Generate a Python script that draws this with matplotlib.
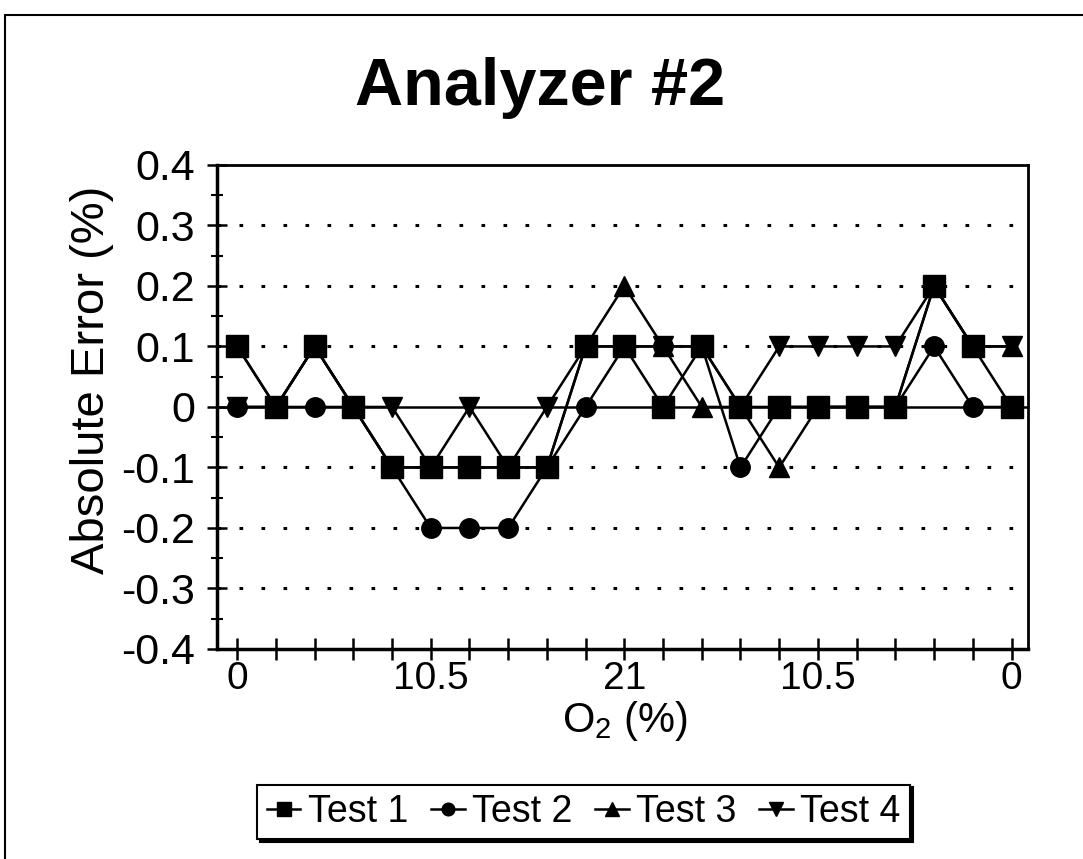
import matplotlib
matplotlib.use('Agg')
import matplotlib.pyplot as plt
from matplotlib.patches import Rectangle
from matplotlib.ticker import MultipleLocator

plt.rcParams['font.family'] = ['Liberation Sans', 'DejaVu Sans']
plt.rcParams['mathtext.fontset'] = 'custom'
plt.rcParams['mathtext.rm'] = 'Liberation Sans'

# O2 steps 0 -> 21 -> 0, labelled every 5th point
x_labels = ['0', '10.5', '21', '10.5', '0']
n_points = 21

test1 = [0.1, 0, 0.1, 0, -0.1, -0.1, -0.1, -0.1, -0.1, 0.1, 0.1, 0, 0.1, 0, 0, 0, 0, 0, 0.2, 0.1, 0]
test2 = [0, 0, 0, 0, -0.1, -0.2, -0.2, -0.2, -0.1, 0, 0.1, 0.1, 0.1, -0.1, 0, 0, 0, 0, 0.1, 0, 0]
test3 = [0.1, 0, 0.1, 0, -0.1, -0.1, -0.1, -0.1, -0.1, 0.1, 0.2, 0.1, 0, 0, -0.1, 0, 0, 0, 0.2, 0.1, 0.1]
test4 = [0, 0, 0.1, 0, 0, -0.1, 0, -0.1, 0, 0.1, 0.1, 0.1, 0.1, 0, 0.1, 0.1, 0.1, 0.1, 0.2, 0.1, 0.1]

# name, values, marker, size, z (squares end up on top)
series = [('Test 1', test1, 's', 15.5, 6),
          ('Test 2', test2, 'o', 14, 5),
          ('Test 3', test3, '^', 15, 4),
          ('Test 4', test4, 'v', 15, 3)]

fig = plt.figure(figsize=(10.83, 8.59), dpi=100)
ax = fig.add_axes([0.2004, 0.2445, 0.7486, 0.5635])

# outer frame of the chart
fig.patches.append(Rectangle((0.005, -0.2), 1.2, 0.2 + 0.982, transform=fig.transFigure,
                             fill=False, edgecolor='black', linewidth=1.5))

xs = list(range(n_points))

# grid: dotted lines, solid zero line
for g in [-0.3, -0.2, -0.1, 0.1, 0.2, 0.3]:
    ax.axhline(g, color='black', linestyle=(0, (1.2, 6)), linewidth=2.2, zorder=1)
ax.axhline(0, color='black', linewidth=1.8, zorder=1)

lines = []
for name, vals, mk, ms, z in series:
    ln, = ax.plot(xs, vals, color='black', linewidth=1.8, marker=mk, markersize=ms,
                  label=name, zorder=z)
    lines.append(ln)

ax.set_xlim(-0.52, 20.42)
ax.set_ylim(-0.4, 0.4)
ax.set_xticks(xs)
ax.set_xticklabels([x_labels[i // 5] if i % 5 == 0 else '' for i in xs])
ax.set_yticks([-0.4, -0.3, -0.2, -0.1, 0, 0.1, 0.2, 0.3, 0.4])
ax.set_yticklabels(['-0.4', '-0.3', '-0.2', '-0.1', '0', '0.1', '0.2', '0.3', '0.4'])
ax.yaxis.set_minor_locator(MultipleLocator(0.05))

ax.tick_params(axis='both', which='major', direction='inout', length=14, width=1.8)
ax.tick_params(axis='y', which='major', labelsize=31, pad=9)
ax.tick_params(axis='y', which='minor', direction='inout', length=8, width=1.5)
ax.tick_params(axis='x', which='major', length=16, pad=1, labelsize=28)

for side in ['left', 'bottom']:
    ax.spines[side].set_linewidth(2.5)
for side in ['top', 'right']:
    ax.spines[side].set_linewidth(2.0)

ax.set_ylabel('Absolute Error (%)', fontsize=34, va='center')
ax.yaxis.set_label_coords(-0.154, 0.556)
ax.set_xlabel(r'O$_{\mathrm{2}}$ (%)', fontsize=30, va='center')
ax.xaxis.set_label_coords(0.503, -0.148)
fig.text(0.4986, 1 - 88 / 859, 'Analyzer #2', fontsize=48, fontweight='bold',
         ha='center', va='center')

leg = fig.legend(handles=lines, loc='center', bbox_to_anchor=(0.539, 0.0547), ncol=4,
                 fontsize=27, frameon=True, fancybox=False,
                 shadow={'color': 'black', 'alpha': 1},
                 handlelength=0.9, handletextpad=0.2, columnspacing=0.6,
                 borderpad=0.25, markerscale=0.65)
leg.get_frame().set_edgecolor('black')
leg.get_frame().set_linewidth(1.5)

fig.savefig('out.png', dpi=100)
